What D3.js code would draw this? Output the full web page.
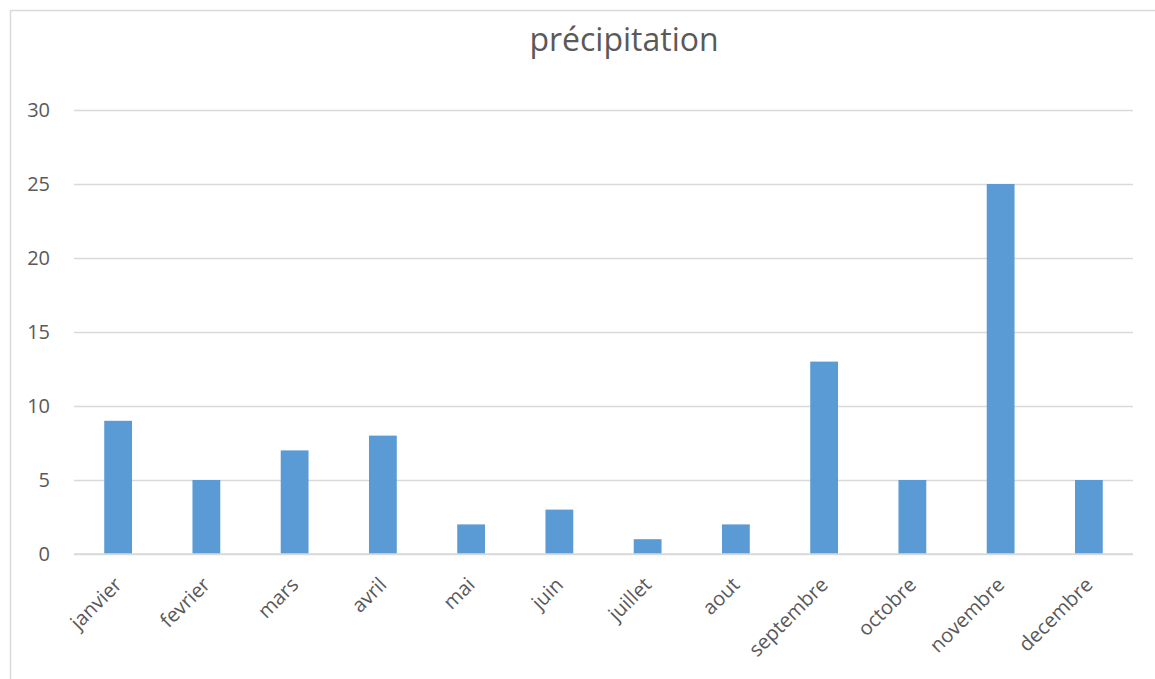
<!DOCTYPE html>
<html>
<head>
<meta charset="utf-8">
<script src="https://cdn.jsdelivr.net/npm/d3@7"></script>
<style>
  html, body { margin: 0; padding: 0; background: #fff; }
  svg { display: block; }
  svg text { font-family: "Open Sans", "Noto Sans", sans-serif; }
</style>
</head>
<body>
<svg id="chart" width="1155" height="679"></svg>
<script>
// Monthly precipitation
const months = ["janvier", "fevrier", "mars", "avril", "mai", "juin",
                "juillet", "aout", "septembre", "octobre", "novembre", "decembre"];
const precipitation = [9, 5, 7, 8, 2, 3, 1, 2, 13, 5, 25, 5];
const yTicks = [0, 5, 10, 15, 20, 25, 30];
const chartTitle = "précipitation";

const svg = d3.select("#chart");
const margin = { left: 74, right: 22, top: 110, bottom: 125 };
const W = 1155, H = 679;

// Chart frame (top and left edges)
svg.append("path")
  .attr("d", `M10.5,679 V10.5 H1155`)
  .attr("fill", "none")
  .attr("stroke", "#d9d9d9")
  .attr("stroke-width", 1.5);

const x = d3.scaleBand()
  .domain(months)
  .range([margin.left, W - margin.right])
  .paddingInner(0.685)
  .paddingOuter(0.3425);

const y = d3.scaleLinear()
  .domain([0, 30])
  .range([H - margin.bottom, margin.top]);

// Gridlines and y labels
const yAxis = d3.axisLeft(y)
  .tickValues(yTicks)
  .tickSize(-(W - margin.right - margin.left))
  .tickPadding(24);

const gy = svg.append("g")
  .attr("transform", `translate(${margin.left},0)`)
  .call(yAxis)
  .attr("font-family", null)
  .attr("font-size", null);
gy.select(".domain").remove();
gy.selectAll(".tick line").attr("stroke", "#d9d9d9").attr("stroke-width", 1.5);
gy.selectAll(".tick text")
  .attr("fill", "#595959")
  .style("font-size", "20px");

// Bars
svg.append("g").selectAll("rect")
  .data(precipitation)
  .join("rect")
  .attr("x", (d, i) => x(months[i]))
  .attr("width", x.bandwidth())
  .attr("y", d => y(d))
  .attr("height", d => y(0) - y(d))
  .attr("fill", "#5b9bd5");

// Category axis
const xAxis = d3.axisBottom(x).tickSize(0).tickPadding(0);
const gx = svg.append("g")
  .attr("transform", `translate(0,${y(0)})`)
  .call(xAxis)
  .attr("font-family", null)
  .attr("font-size", null);
gx.select(".domain").remove();
gx.selectAll(".tick text")
  .attr("fill", "#595959")
  .style("font-size", "20px")
  .attr("text-anchor", "end")
  .attr("dy", null)
  .attr("y", null)
  .attr("transform", "translate(5,32) rotate(-45)");

// Baseline
svg.append("line")
  .attr("x1", margin.left)
  .attr("x2", W - margin.right)
  .attr("y1", y(0))
  .attr("y2", y(0))
  .attr("stroke", "#d9d9d9")
  .attr("stroke-width", 1.5);

// Title
svg.append("text")
  .attr("x", 624)
  .attr("y", 51)
  .attr("text-anchor", "middle")
  .attr("fill", "#595959")
  .style("font-size", "32px")
  .text(chartTitle);
</script>
</body>
</html>
